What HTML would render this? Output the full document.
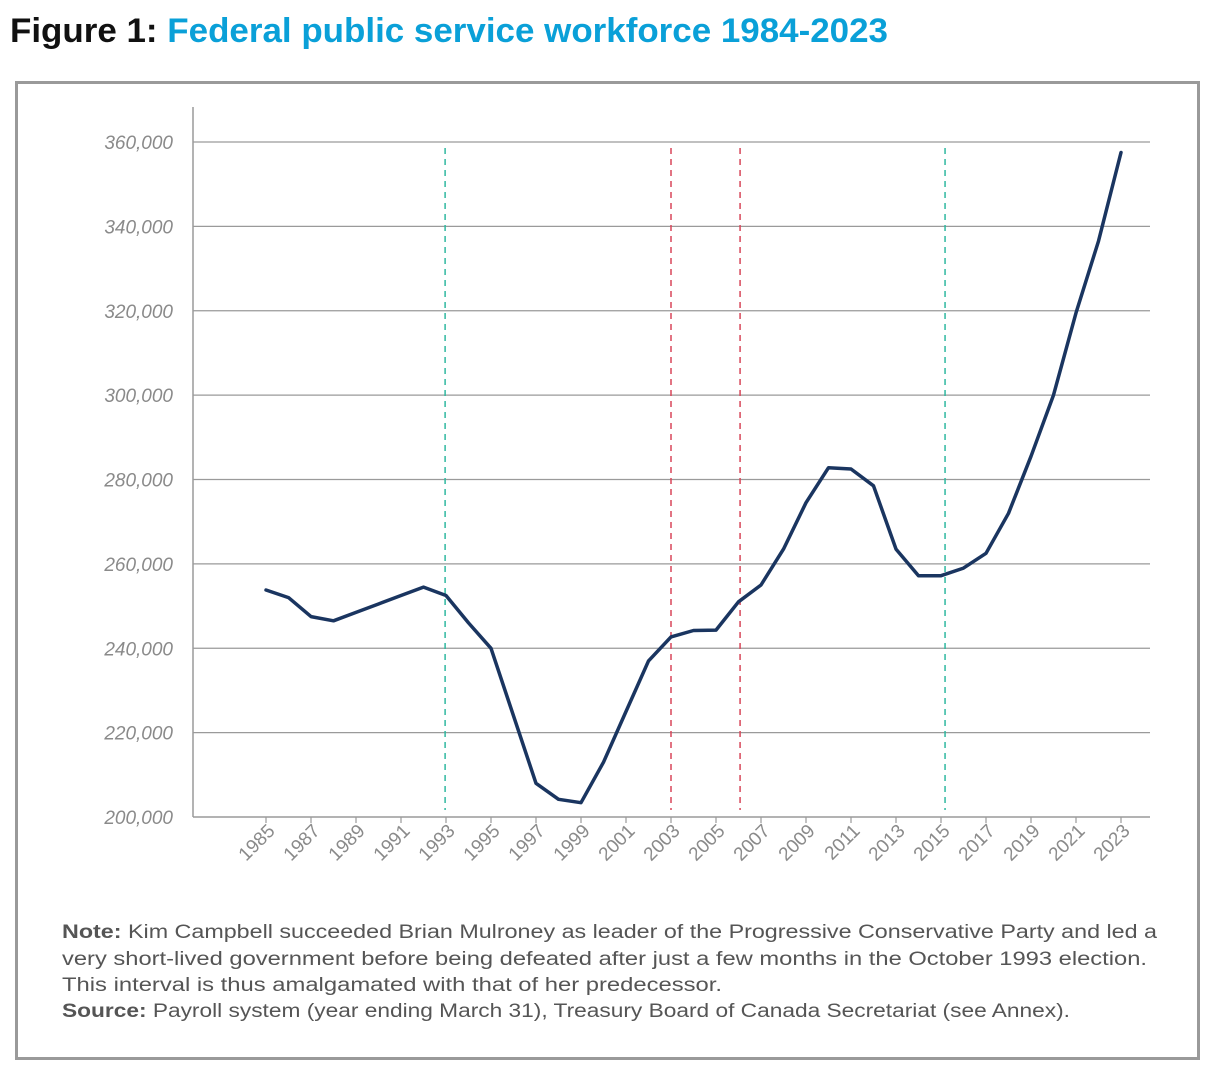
<!DOCTYPE html>
<html><head><meta charset="utf-8"><style>
html,body{margin:0;padding:0;background:#fff;width:1220px;height:1082px;overflow:hidden}
svg{display:block}
</style></head><body>
<svg id="chart" width="1220" height="1082" viewBox="0 0 1220 1082" font-family="'Liberation Sans', sans-serif">
<text x="10" y="42" font-size="34" font-weight="bold" textLength="878" lengthAdjust="spacingAndGlyphs"><tspan fill="#111">Figure 1: </tspan><tspan fill="#0aa0d8">Federal public service workforce 1984-2023</tspan></text>
<rect x="16.5" y="82.5" width="1182" height="976" fill="none" stroke="#9a9a9a" stroke-width="3"/>
<g id="grid"></g>
<g id="axes"></g>
<g id="events"></g>
<g id="series"></g>
<g font-size="19" fill="#555">
<text x="62" y="938" textLength="1095" lengthAdjust="spacingAndGlyphs"><tspan font-weight="bold">Note:</tspan> Kim Campbell succeeded Brian Mulroney as leader of the Progressive Conservative Party and led a</text>
<text x="62" y="965" textLength="1085" lengthAdjust="spacingAndGlyphs">very short-lived government before being defeated after just a few months in the October 1993 election.</text>
<text x="62" y="991" textLength="660" lengthAdjust="spacingAndGlyphs">This interval is thus amalgamated with that of her predecessor.</text>
<text x="62" y="1017" textLength="1008" lengthAdjust="spacingAndGlyphs"><tspan font-weight="bold">Source:</tspan> Payroll system (year ending March 31), Treasury Board of Canada Secretariat (see Annex).</text>
</g>
</svg>
<script>
const years=[1985,1986,1987,1988,1989,1990,1991,1992,1993,1994,1995,1996,1997,1998,1999,2000,2001,2002,2003,2004,2005,2006,2007,2008,2009,2010,2011,2012,2013,2014,2015,2016,2017,2018,2019,2020,2021,2022,2023];
const workforce=[253800,252000,247500,246500,248500,250500,252500,254500,252500,246000,240000,224000,208000,204200,203400,213000,225000,237000,242700,244200,244300,251000,255000,263500,274500,282800,282500,278500,263500,257200,257200,259000,262500,272000,285500,300000,319500,336500,357500];
const yTicks=[200000,220000,240000,260000,280000,300000,320000,340000,360000];
const xTickYears=[1985,1987,1989,1991,1993,1995,1997,1999,2001,2003,2005,2007,2009,2011,2013,2015,2017,2019,2021,2023];
const eventYears=[1992.96,2003.0,2006.07,2015.18];
const eventKinds=['green','red','red','green'];

const NS='http://www.w3.org/2000/svg';
const X=y=>266+(y-1985)*22.5;
const Y=v=>817-(v-200000)*(675/160000);
function mk(tag,attrs,parent){const e=document.createElementNS(NS,tag);for(const k in attrs)e.setAttribute(k,attrs[k]);parent.appendChild(e);return e;}
const grid=document.getElementById('grid'),axes=document.getElementById('axes'),events=document.getElementById('events'),series=document.getElementById('series');

yTicks.forEach(v=>{
  if(v>200000){const l=mk('line',{x1:193,x2:1150,y1:Y(v),y2:Y(v),stroke:'#9a9a9a','stroke-width':1.2},grid);
  
  }
  const t=mk('text',{x:173,y:Y(v)+7,'text-anchor':'end','font-size':19,fill:'#8a8a8a','font-style':'italic'},axes);
  t.textContent=v.toLocaleString('en-US');
  
  
});
let a=mk('line',{x1:193,x2:193,y1:107,y2:817,stroke:'#9a9a9a','stroke-width':1.5},axes);


a=mk('line',{x1:193,x2:1150,y1:817,y2:817,stroke:'#9a9a9a','stroke-width':1.5},axes);


xTickYears.forEach(yr=>{
  const x=X(yr);
  const tk=mk('line',{x1:x,x2:x,y1:817,y2:823,stroke:'#9a9a9a','stroke-width':1.2},axes);
  
  
  const t=mk('text',{x:x+10,y:832,'text-anchor':'end','font-size':19,fill:'#8a8a8a',transform:'rotate(-45 '+(x+10)+' 832)'},axes);
  t.textContent=String(yr);
  
  
});
eventYears.forEach((yr,i)=>{
  const l=mk('line',{x1:X(yr),x2:X(yr),y1:148,y2:810,stroke:eventKinds[i]==='green'?'#2fb8a0':'#d8475a','stroke-width':1.5,'stroke-dasharray':'6,5'},events);
  
  
});
const d=years.map((yr,i)=>(i?'L':'M')+X(yr).toFixed(1)+','+Y(workforce[i]).toFixed(1)).join(' ');
const p=mk('path',{d:d,fill:'none',stroke:'#1a3560','stroke-width':3.5,'stroke-linejoin':'round','stroke-linecap':'round'},series);


</script>
</body></html>
